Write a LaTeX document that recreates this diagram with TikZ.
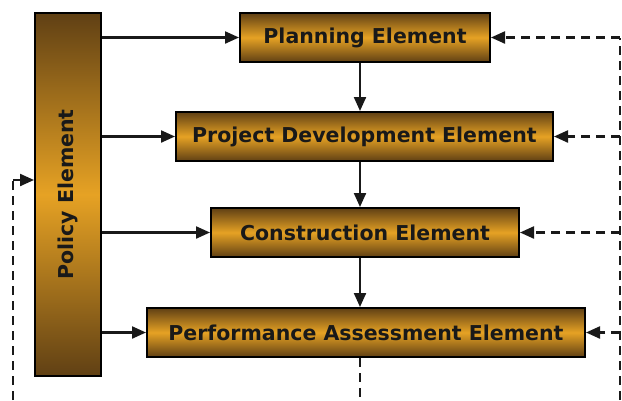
\documentclass[tikz,border=0pt]{standalone}
\usepackage{fontspec}
\setmainfont{DejaVu Sans}
\usetikzlibrary{arrows.meta}
\definecolor{elemdark}{RGB}{96,64,20}
\definecolor{elemgold}{RGB}{230,162,36}
\tikzset{
	element/.style={draw=black, line width=2pt, top color=elemdark, bottom color=elemdark, middle color=elemgold, inner sep=0pt, minimum height=49pt, text=black!90, font=\fontsize{20.5}{24}\selectfont\bfseries},
	flow/.style={-{Triangle[length=14pt,width=12pt]}, line width=2.2pt, color=black!90},
	feedback/.style={flow, dash pattern=on 9pt off 6pt},
	backline/.style={line width=2.2pt, color=black!90, dash pattern=on 9pt off 6pt}
}

\begin{document}
\begin{tikzpicture}[x=1pt, y=-1pt]

			\useasboundingbox (0, 0) rectangle (622, 400);

			\node[element, minimum width=66pt, minimum height=363pt] (policy) at (68, 194.5) {\rotatebox{90}{Policy Element}};
			\node[element, minimum width=250pt] (plan) at (365, 37.5) {Planning Element};
			\node[element, minimum width=377pt] (dev) at (364.5, 136.5) {Project Development Element};
			\node[element, minimum width=308pt] (constr) at (365, 232.5) {Construction Element};
			\node[element, minimum width=438pt] (perf) at (366, 332.5) {Performance Assessment Element};

			\coordinate (spine) at (360, 0);
			\coordinate (rtop) at (620, 37.5);
			\coordinate (rbot) at (620, 400);
			\coordinate (ltop) at (13, 180);
			\coordinate (lbot) at (13, 400);
			\coordinate (mbot) at (360, 400);

			% policy to every element
			\foreach \el in {plan, dev, constr, perf}
				\draw[flow] (\el.west -| policy.east) -- (\el.west);

			% main chain
			\draw[flow] (plan.south -| spine) -- (dev.north -| spine);
			\draw[flow] (dev.south -| spine) -- (constr.north -| spine);
			\draw[flow] (constr.south -| spine) -- (perf.north -| spine);

			% feedback loops
			\draw[backline] (perf.south -| spine) -- (mbot);
			\draw[backline] (rbot) -- (rtop);
			\foreach \el in {plan, dev, constr, perf}
				\draw[feedback] (\el.east -| rtop) -- (\el.east);
			\draw[backline] (lbot) -- (ltop);
			\draw[feedback] (ltop) -- (ltop -| policy.west);

		\end{tikzpicture}
\end{document}
